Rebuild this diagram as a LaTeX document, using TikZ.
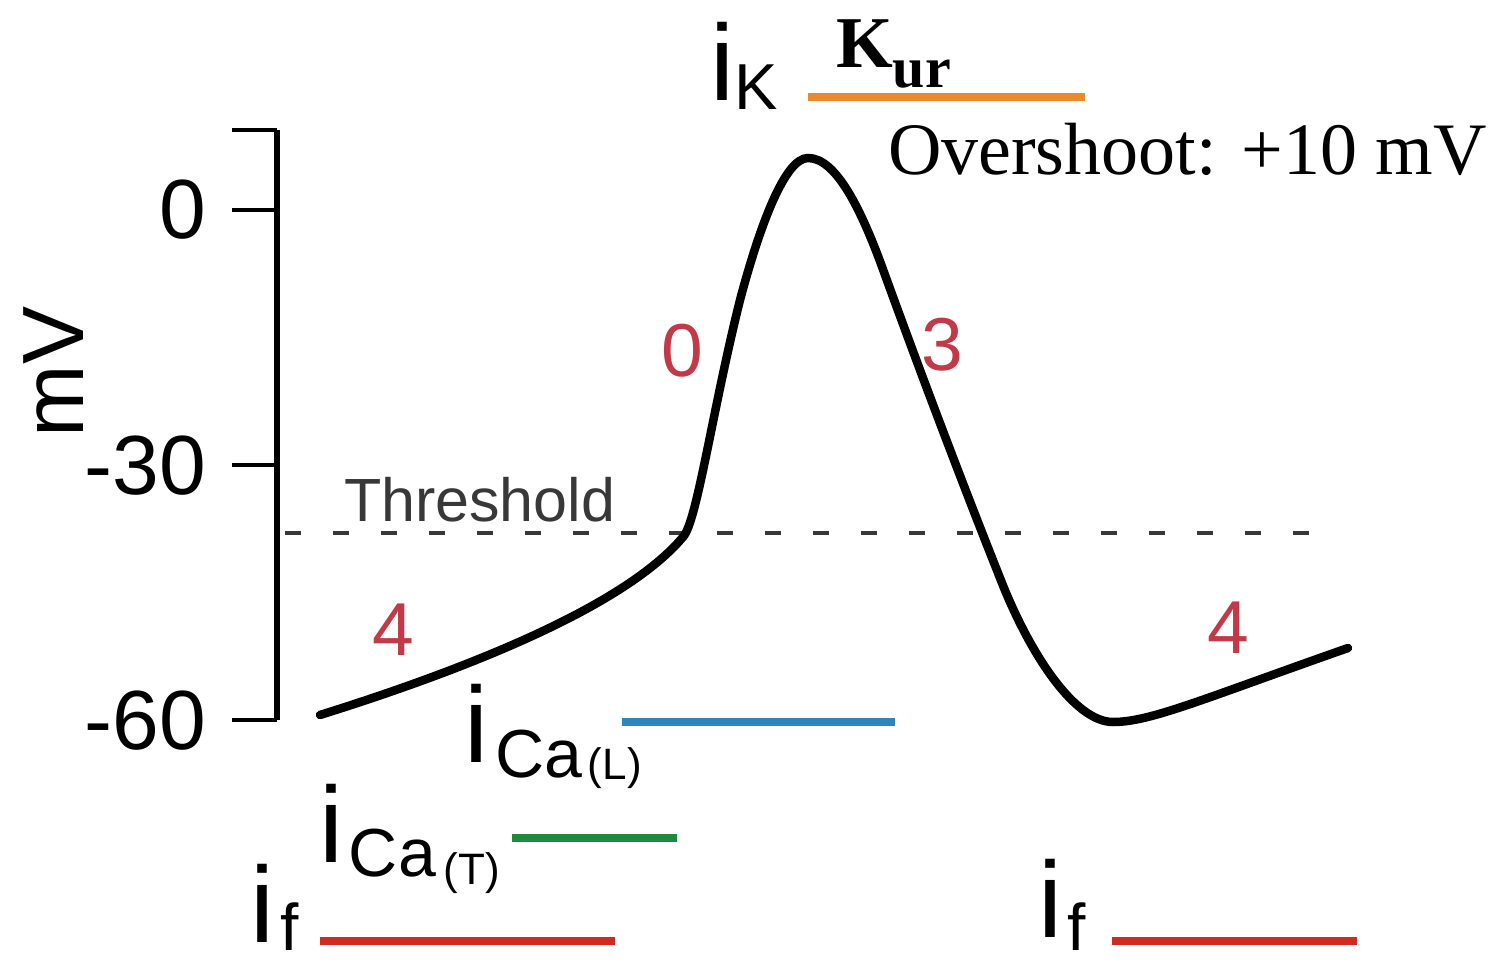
\documentclass[tikz,border=0pt]{standalone}
\usepackage{fontspec}
\setmainfont{Liberation Serif}
\newfontfamily\arialf{Liberation Sans}
\definecolor{phred}{HTML}{C23A48}
\definecolor{barred}{HTML}{D12B1F}
\definecolor{barblue}{HTML}{2F86BE}
\definecolor{bargreen}{HTML}{1F8A3D}
\definecolor{barorange}{HTML}{E98A2C}
\definecolor{thgray}{HTML}{383838}
\newcommand{\fs}[1]{\fontsize{#1}{#1}\selectfont}
\begin{document}
\begin{tikzpicture}[x=1pt,y=-1pt,
  lbl/.style={inner sep=0pt, outer sep=0pt},
  ticklbl/.style={lbl, anchor=east, font=\arialf\fs{84}},
  phase/.style={lbl, font=\arialf\fs{75}, text=phred},
  bar/.style={line width=8pt},
  tickln/.style={line width=3.5pt},
  curr/.style={lbl, anchor=base west, font=\arialf\fs{108}}]
\useasboundingbox (0,0) rectangle (1493,960);
% axis
\coordinate (atop) at (277,130);
\coordinate (abot) at (277,720);
\coordinate (t0a) at (232,210);
\coordinate (t0b) at (277,210);
\coordinate (t30a) at (232,465);
\coordinate (t30b) at (277,465);
\coordinate (ttopa) at (232,130);
\coordinate (tbota) at (232,720);
\draw[line width=6pt] (atop) -- (abot);
\draw[tickln] (ttopa) -- (atop);
\draw[tickln] (t0a) -- (t0b);
\draw[tickln] (t30a) -- (t30b);
\draw[tickln] (tbota) -- (abot);
\node[ticklbl] (l0) at (206,210) {0};
\node[ticklbl] (l30) at (206,466) {-30};
\node[ticklbl] (l60) at (206,721) {-60};
\node[lbl, rotate=90, anchor=base, font=\arialf\fs{87}] (mv) at (83,372) {mV};
% threshold
\coordinate (tha) at (285,533);
\coordinate (thb) at (1310,533);
\draw[thgray, line width=3.5pt, dash pattern=on 16pt off 32pt] (tha) -- (thb);
\node[lbl, anchor=base west, font=\arialf\fs{61}, text=thgray] (thr) at (344,521) {Threshold};
% action potential
\coordinate (c0) at (320,715);
\coordinate (c1) at (683,537);
\coordinate (c2) at (740,300);
\coordinate (c3) at (808,158);
\coordinate (c4) at (885,275);
\coordinate (c5) at (1000,578);
\coordinate (c6) at (1113,722);
\coordinate (c7) at (1348,648);
\draw[line width=8.5pt, line join=round, line cap=round]
  (c0) .. controls (470,668) and (625,606) .. (c1)
       .. controls (697,522) and (712,412) .. (c2)
       .. controls (760,225) and (785,158) .. (c3)
       .. controls (835,158) and (860,205) .. (c4)
       .. controls (925,385) and (965,490) .. (c5)
       .. controls (1030,655) and (1075,722) .. (c6)
       .. controls (1150,722) and (1200,700) .. (c7);
% phase numbers
\node[phase] (p0) at (682,351) {0};
\node[phase] (p3) at (942,345) {3};
\node[phase] (p4a) at (393,630) {4};
\node[phase] (p4b) at (1228,628) {4};
% overshoot
\node[lbl, anchor=base west, font=\fs{74}] (ov) at (888,175) {Overshoot: +10 mV};
% iK Kur
\node[curr] (ik) at (710,101) {i\raisebox{-9pt}{\fs{65}K}};
\node[lbl, anchor=base west, font=\bfseries\fs{73}] (kur) at (836,68) {K\raisebox{-20pt}{\fs{58}ur}};
\coordinate (oa) at (808,97);
\coordinate (ob) at (1085,97);
\draw[bar, barorange] (oa) -- (ob);
% iCa(L)
\node[curr] (icl) at (464,762) {i\hspace{7pt}\raisebox{-15pt}{\fs{68}Ca\hspace{6pt}\raisebox{-2pt}{\fs{44}(L)}}};
\coordinate (ba) at (622,722);
\coordinate (bb) at (895,722);
\draw[bar, barblue] (ba) -- (bb);
% iCa(T)
\node[curr] (ict) at (319,862) {i\hspace{6pt}\raisebox{-14pt}{\fs{68}Ca\hspace{8pt}\raisebox{-8pt}{\fs{44}(T)}}};
\coordinate (ga) at (512,838);
\coordinate (gb) at (677,838);
\draw[bar, bargreen] (ga) -- (gb);
% if left
\node[curr] (ifl) at (250,942) {i\hspace{7pt}\raisebox{-8pt}{\fs{66}f}};
\coordinate (ra) at (320,941);
\coordinate (rb) at (615,941);
\draw[bar, barred] (ra) -- (rb);
% if right
\node[curr] (ifr) at (1038,937) {i\hspace{5pt}\raisebox{-13pt}{\fs{66}f}};
\coordinate (rc) at (1112,941);
\coordinate (rd) at (1357,941);
\draw[bar, barred] (rc) -- (rd);
\end{tikzpicture}
\end{document}
